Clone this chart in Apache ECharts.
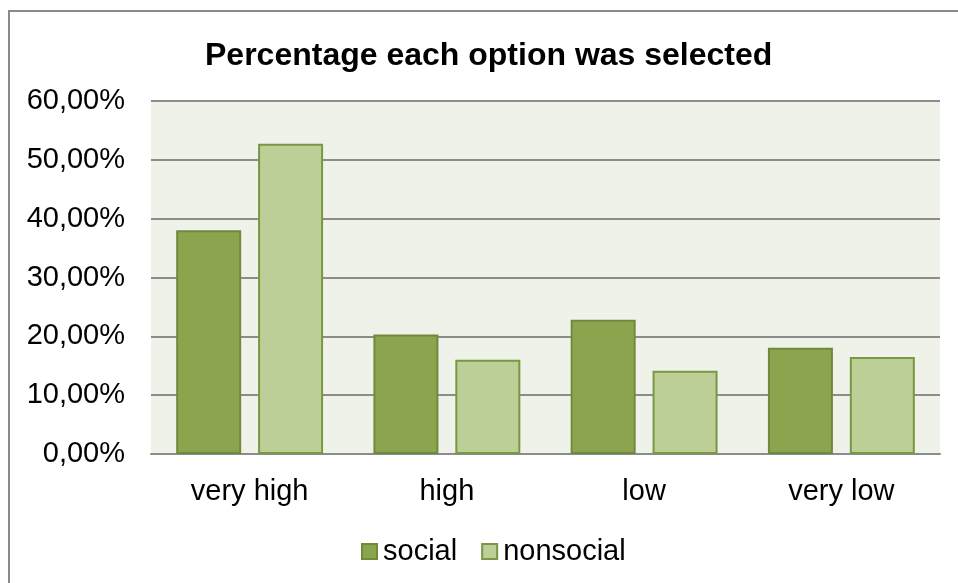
<!DOCTYPE html>
<html>
<head>
<meta charset="utf-8">
<script src="https://cdn.jsdelivr.net/npm/echarts@6/dist/echarts.min.js"></script>
<style>
html,body{margin:0;padding:0;background:#fff;}
#chart{width:958px;height:583px;}
</style>
</head>
<body>
<div id="chart"></div>
<script>
const categories = ['very high', 'high', 'low', 'very low'];
const socialValues = [38.04, 20.31, 22.81, 18.05];
const nonsocialValues = [52.75, 16.02, 14.15, 16.47];
const seriesNames = ['social', 'nonsocial'];
const titleText = 'Percentage each option was selected';

const FONT = '"Liberation Sans", Arial, sans-serif';
const chart = echarts.init(document.getElementById('chart'), null, {renderer: 'canvas'});
chart.setOption({
  animation: false,
  backgroundColor: '#ffffff',
  graphic: [{
    type: 'rect',
    shape: {x: 9, y: 11, width: 970, height: 600},
    style: {fill: 'none', stroke: '#8a8a8a', lineWidth: 2},
    silent: true,
    z: 100
  }],
  title: {
    text: titleText,
    left: 200,
    top: 35,
    textStyle: {fontFamily: FONT, fontSize: 32, fontWeight: 'bold', color: '#000'}
  },
  legend: {
    data: seriesNames,
    left: 356,
    top: 532,
    itemWidth: 15,
    itemHeight: 15,
    itemGap: 24,
    icon: 'rect',
    textStyle: {fontFamily: FONT, fontSize: 29, color: '#000', padding: [0, 0, 0, 1]}
  },
  grid: {
    left: 151, right: 18, top: 101, bottom: 129,
    show: true, backgroundColor: '#eff2e9', borderWidth: 0,
    containLabel: false
  },
  xAxis: {
    type: 'category',
    data: categories,
    axisLine: {show: true, lineStyle: {color: '#8c8c8c', width: 2}},
    axisTick: {show: false},
    axisLabel: {fontFamily: FONT, fontSize: 29, color: '#000', margin: 23}
  },
  yAxis: {
    type: 'value',
    min: 0, max: 60, interval: 10,
    axisLine: {show: false},
    axisTick: {show: false},
    splitLine: {lineStyle: {color: '#8c8c8c', width: 2}},
    axisLabel: {
      fontFamily: FONT, fontSize: 29, color: '#000', margin: 26,
      formatter: v => v.toFixed(2).replace('.', ',') + '%'
    }
  },
  series: [{
    name: seriesNames[0],
    type: 'bar',
    data: socialValues,
    barWidth: 65,
    barGap: '26%',
    itemStyle: {color: '#8aa54e', borderColor: '#71893f', borderWidth: 2}
  }, {
    name: seriesNames[1],
    type: 'bar',
    data: nonsocialValues,
    barWidth: 65,
    itemStyle: {color: '#bbcf96', borderColor: '#7a9743', borderWidth: 2}
  }]
});
</script>
</body>
</html>
